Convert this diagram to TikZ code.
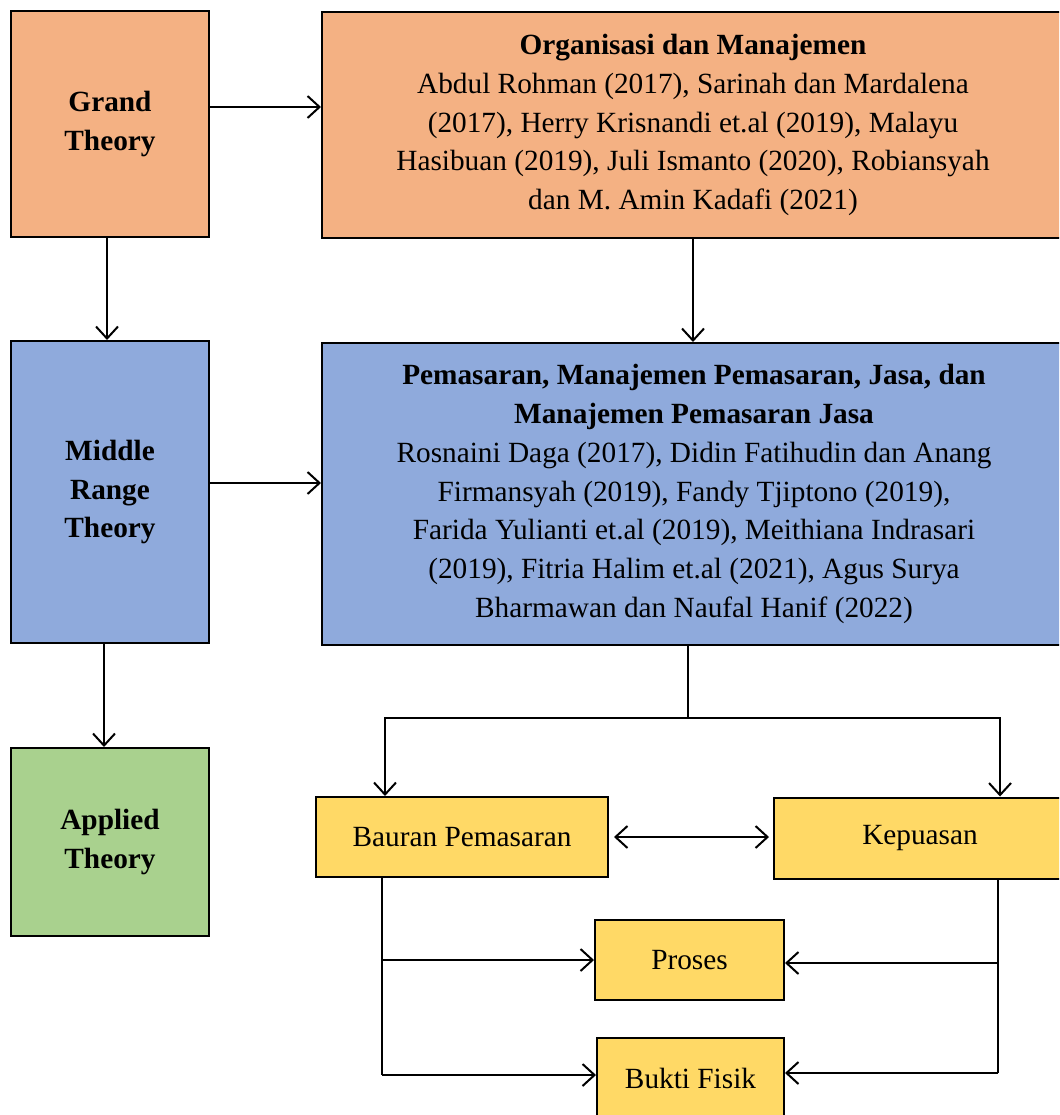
\documentclass[tikz,border=0pt]{standalone}
\usepackage{fontspec}
\setmainfont{Liberation Serif}
\usetikzlibrary{arrows.meta,calc}
\definecolor{orangeF}{HTML}{F4B183}
\definecolor{blueF}{HTML}{8FAADC}
\definecolor{greenF}{HTML}{A9D18E}
\definecolor{yellowF}{HTML}{FFD966}
\begin{document}
\begin{tikzpicture}[x=1pt,y=-1pt,
  box/.style={draw=black, line width=2pt, inner sep=0pt, align=center,
    font=\fontsize{29.3}{38.8}\selectfont},
  arr/.style={line width=2pt, -{Straight Barb[length=12pt,width=22pt]}},
  dbl/.style={line width=2pt, {Straight Barb[length=12pt,width=22pt]}-{Straight Barb[length=12pt,width=22pt]}},
  ln/.style={line width=2pt}]
\useasboundingbox (0,0) rectangle (1059,1115);
\clip (0,0) rectangle (1059,1115);

\node (gt) [box, fill=orangeF, minimum width=198pt, minimum height=226pt] at (110,124)
  {\textbf{Grand}\\\textbf{Theory}};
\node (org) [box, fill=orangeF, minimum width=742pt, minimum height=226pt] at (693,125)
  {\textbf{Organisasi dan Manajemen}\\
   Abdul Rohman (2017), Sarinah dan Mardalena\\
   (2017), Herry Krisnandi et.al (2019), Malayu\\
   Hasibuan (2019), Juli Ismanto (2020), Robiansyah\\
   dan M. Amin Kadafi (2021)};
\node (mr) [box, fill=blueF, minimum width=198pt, minimum height=302pt] at (110,492)
  {\textbf{Middle}\\\textbf{Range}\\\textbf{Theory}};
\node (pem) [box, fill=blueF, minimum width=744pt, minimum height=302pt] at (694,494)
  {\textbf{Pemasaran, Manajemen Pemasaran, Jasa, dan}\\
   \textbf{Manajemen Pemasaran Jasa}\\
   Rosnaini Daga (2017), Didin Fatihudin dan Anang\\
   Firmansyah (2019), Fandy Tjiptono (2019),\\
   Farida Yulianti et.al (2019), Meithiana Indrasari\\
   (2019), Fitria Halim et.al (2021), Agus Surya\\
   Bharmawan dan Naufal Hanif (2022)};
\node (at) [box, fill=greenF, minimum width=198pt, minimum height=188pt] at (110,842)
  {\textbf{Applied}\\\textbf{Theory}};
\node (bp) [box, fill=yellowF, minimum width=292pt, minimum height=80pt] at (462,837)
  {Bauran Pemasaran};
\node (kep) [box, fill=yellowF, minimum width=292pt, minimum height=81pt] at (920,838)
  {Kepuasan};
\node (pro) [box, fill=yellowF, minimum width=189pt, minimum height=80pt] at (689.5,960)
  {Proses};
\node (bf) [box, fill=yellowF, minimum width=187pt, minimum height=80pt] at (690.5,1078)
  {Bukti Fisik};

% connectors
\draw[arr] (gt.east |- 0,107) -- (org.west |- 0,107);
\draw[arr] (gt.south -| 107,0) -- (mr.north -| 107,0);
\draw[arr] (org.south -| 693,0) -- (pem.north -| 693,0);
\draw[arr] (mr.south -| 104,0) -- (at.north -| 104,0);
\draw[arr] (mr.east |- 0,483) -- (pem.west |- 0,483);

\coordinate (split) at (688,718);
\draw[ln] (pem.south -| split) -- (split);
\draw[arr] (split) -| (bp.north -| 385,0);
\draw[arr] (split) -| (kep.north -| 1000,0);

\draw[dbl, shorten <=5pt, shorten >=4pt] (bp.east) -- (kep.west |- bp.east);

\coordinate (lb) at (382,1075);
\coordinate (rb) at (998,1073);
\draw[ln] (bp.south -| lb) -- (lb);
\draw[ln] (kep.south -| rb) -- (rb);
\draw[arr] (382,960) -- (pro.west |- 0,960);
\draw[arr] (lb) -- (bf.west |- lb);
\draw[arr] (998,963) -- (pro.east |- 0,963);
\draw[arr] (rb) -- (bf.east |- rb);
\end{tikzpicture}
\end{document}
